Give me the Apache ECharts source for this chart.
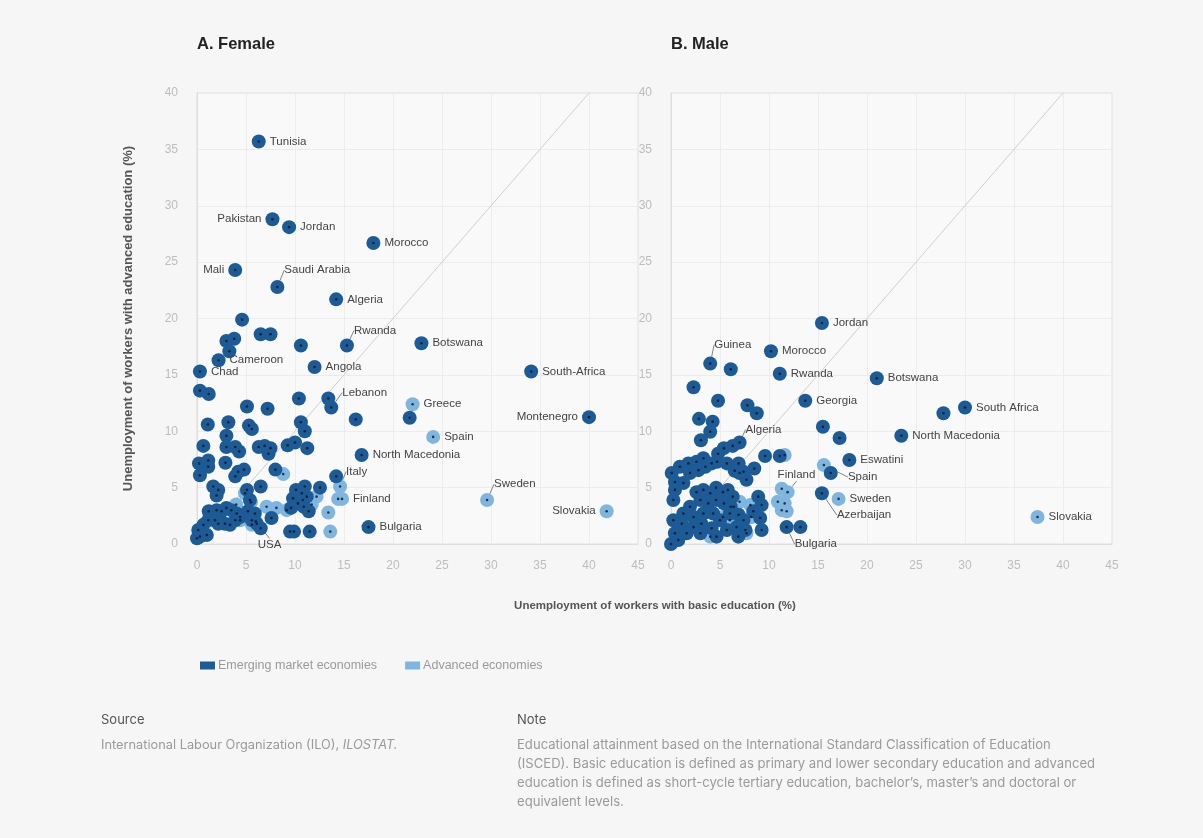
<!DOCTYPE html>
<html>
<head>
<meta charset="utf-8">
<title>Unemployment by educational attainment</title>
<script src="https://cdn.jsdelivr.net/npm/echarts@6/dist/echarts.min.js"></script>
<style>
  html, body { margin: 0; padding: 0; background: #f6f6f6; }
  #chart { width: 1203px; height: 838px; }
</style>
</head>
<body>
<div id="chart"></div>
<script>
// Unemployment rate (%) of workers with basic education (x) vs advanced education (y).
// Each entry: [basic, advanced, country label ('' when unlabelled)].
const femaleEmerging = [
  [6.3, 35.7, 'Tunisia'], [7.7, 28.8, 'Pakistan'], [9.4, 28.1, 'Jordan'], [18.0, 26.7, 'Morocco'],
  [3.9, 24.3, 'Mali'], [8.2, 22.8, 'Saudi Arabia'], [14.2, 21.7, 'Algeria'], [4.6, 19.9, ''],
  [6.5, 18.6, ''], [7.5, 18.6, ''], [3.0, 18.0, ''], [3.8, 18.2, ''], [3.3, 17.1, ''],
  [10.6, 17.6, ''], [15.3, 17.6, 'Rwanda'], [22.9, 17.8, 'Botswana'], [2.2, 16.3, 'Cameroon'],
  [0.3, 15.3, 'Chad'], [12.0, 15.7, 'Angola'], [34.1, 15.3, 'South-Africa'],
  [0.3, 13.6, ''], [1.2, 13.3, ''], [5.1, 12.2, ''], [7.2, 12.0, ''], [10.4, 12.9, ''],
  [13.4, 12.9, ''], [13.7, 12.1, 'Lebanon'], [16.2, 11.05, ''], [21.7, 11.2, ''],
  [40.0, 11.25, 'Montenegro'],
  [1.1, 10.6, ''], [3.2, 10.8, ''], [5.3, 10.5, ''], [5.6, 10.2, ''], [10.6, 10.8, ''], [11.0, 10.0, ''],
  [0.65, 8.7, ''], [3.0, 9.6, ''], [3.0, 8.6, ''], [3.9, 8.6, ''], [4.3, 8.2, ''], [6.3, 8.6, ''],
  [6.9, 8.7, ''], [7.5, 8.5, ''], [7.3, 8.0, ''], [9.25, 8.75, ''], [10.0, 9.0, ''], [11.25, 8.5, ''],
  [16.8, 7.9, 'North Macedonia'],
  [0.2, 7.15, ''], [1.15, 7.4, ''], [1.15, 6.85, ''], [0.3, 6.1, ''], [2.9, 7.2, ''], [3.9, 6.0, ''],
  [4.2, 6.4, ''], [4.8, 6.6, ''], [8.0, 6.6, ''], [6.5, 5.1, ''], [14.2, 6.0, ''],
  [1.66, 5.1, ''], [2.17, 4.8, ''], [2.0, 4.3, ''], [5.1, 4.8, ''], [5.4, 3.9, ''],
  [1.2, 2.9, ''], [2.0, 3.0, ''], [2.5, 2.9, ''], [3.0, 3.2, ''], [3.5, 3.0, ''], [4.05, 2.7, ''],
  [0.13, 1.24, ''], [0.65, 1.7, ''], [1.15, 2.1, ''], [1.84, 2.1, ''], [2.17, 1.8, ''], [2.86, 1.8, ''],
  [3.37, 1.7, ''], [3.9, 2.1, ''], [4.4, 2.4, ''], [0.0, 0.5, ''], [0.3, 0.65, ''], [1.0, 0.8, ''],
  [5.2, 2.9, ''], [5.9, 2.7, ''], [5.6, 2.1, ''], [6.1, 1.8, ''], [6.5, 1.4, ''], [7.6, 2.3, ''],
  [9.5, 1.1, ''], [9.9, 1.1, ''], [11.5, 1.1, ''],
  [10.1, 4.8, ''], [10.7, 4.5, ''], [11.0, 5.1, ''], [9.8, 4.05, ''], [10.3, 3.6, ''], [10.9, 3.3, ''],
  [11.4, 2.9, ''], [12.55, 5.0, ''], [10.8, 3.9, ''], [11.2, 4.2, ''], [9.6, 3.2, ''],
  [17.5, 1.5, 'Bulgaria']
];
const femaleAdvanced = [
  [22.0, 12.4, 'Greece'], [24.1, 9.5, 'Spain'], [14.6, 5.1, 'Italy'], [14.4, 4.0, ''],
  [14.8, 4.0, 'Finland'], [13.4, 2.8, ''], [13.6, 1.1, ''], [29.6, 3.9, 'Sweden'],
  [41.8, 2.9, 'Slovakia'], [4.9, 4.5, ''], [4.0, 3.5, ''], [5.5, 3.7, ''], [7.1, 3.3, ''],
  [8.1, 3.2, ''], [9.15, 3.0, ''], [4.4, 2.1, ''], [5.6, 1.7, ''], [8.8, 6.2, ''],
  [11.7, 3.5, ''], [12.2, 4.2, ''], [6.0, 2.0, 'USA']
];
const maleEmerging = [
  [15.4, 19.6, 'Jordan'], [4.0, 16.0, 'Guinea'], [6.1, 15.5, ''], [10.2, 17.1, 'Morocco'],
  [11.1, 15.1, 'Rwanda'], [21.0, 14.7, 'Botswana'], [2.3, 13.9, ''], [4.8, 12.7, ''],
  [13.7, 12.7, 'Georgia'], [7.8, 12.3, ''], [8.75, 11.6, ''], [30.0, 12.1, 'South Africa'],
  [27.8, 11.6, ''], [2.85, 11.1, ''], [4.25, 10.85, ''], [4.0, 9.95, ''], [3.05, 9.2, ''],
  [15.5, 10.4, ''], [17.2, 9.4, ''], [23.5, 9.6, 'North Macedonia'],
  [7.0, 9.0, 'Algeria'], [6.3, 8.7, ''], [5.4, 8.5, ''], [4.8, 8.0, ''], [4.7, 7.3, ''],
  [5.7, 7.15, ''], [6.9, 7.15, ''], [7.4, 6.4, ''], [7.7, 5.7, ''], [8.5, 6.7, ''], [7.0, 6.3, ''],
  [6.5, 6.5, ''], [9.6, 7.8, ''], [11.1, 7.8, ''], [18.2, 7.45, 'Eswatini'], [16.3, 6.3, ''],
  [15.4, 4.5, 'Azerbaijan'],
  [0.07, 6.3, ''], [0.9, 6.85, ''], [1.77, 7.15, ''], [2.6, 7.3, ''], [3.3, 7.6, ''], [1.94, 6.3, ''],
  [2.8, 6.55, ''], [0.4, 5.5, ''], [1.26, 5.4, ''], [3.5, 6.85, ''], [4.15, 7.15, ''], [0.4, 4.8, ''],
  [0.24, 3.9, ''],
  [2.6, 4.6, ''], [3.3, 4.8, ''], [4.0, 4.5, ''], [4.6, 5.0, ''], [5.3, 4.6, ''], [5.8, 4.8, ''],
  [6.3, 4.2, ''], [3.0, 3.9, ''], [3.8, 3.6, ''], [4.6, 3.9, ''], [5.4, 3.6, ''], [6.1, 3.3, ''],
  [1.94, 3.3, ''], [1.26, 2.7, ''], [2.3, 2.4, ''], [3.3, 2.7, ''], [4.3, 2.7, ''], [5.0, 2.1, ''],
  [6.0, 2.7, ''], [6.9, 2.6, ''], [7.4, 2.1, ''], [0.24, 2.1, ''], [1.1, 1.8, ''], [2.3, 1.5, ''],
  [3.1, 1.8, ''], [4.15, 1.4, ''], [5.7, 1.24, ''], [6.7, 1.5, ''], [7.6, 1.24, ''], [0.4, 0.95, ''],
  [1.6, 0.95, ''], [3.0, 0.95, ''], [0.0, 0.0, ''], [0.75, 0.35, ''], [4.65, 0.65, ''], [6.87, 0.65, ''],
  [8.9, 4.2, ''], [9.25, 3.45, ''], [8.4, 2.9, ''], [9.1, 2.3, ''], [9.25, 1.24, ''],
  [11.8, 1.5, 'Bulgaria'], [13.2, 1.5, '']
];
const maleAdvanced = [
  [15.6, 7.0, 'Spain'], [17.1, 4.0, 'Sweden'], [11.6, 7.9, ''], [11.3, 4.9, ''],
  [11.9, 4.6, 'Finland'], [10.9, 3.75, ''], [11.6, 3.6, ''], [11.3, 3.0, ''], [11.8, 2.9, ''],
  [7.0, 3.75, ''], [8.1, 3.45, ''], [8.2, 2.4, ''], [5.3, 2.4, ''], [6.0, 2.1, ''],
  [4.0, 0.65, ''], [7.7, 0.95, ''], [6.4, 3.3, ''], [37.4, 2.4, 'Slovakia']
];
const diagonal = [[0, 0], [40, 40]];
const xTicks = { min: 0, max: 45, interval: 5 };
const yTicks = { min: 0, max: 40, interval: 5 };
const panelTitles = ['A. Female', 'B. Male'];
const seriesNames = ['Emerging market economies', 'Advanced economies'];

// Label placement: side of the marker, or an offset with a leader line.
const femaleLabels = {
  'Pakistan': { pos: 'left' }, 'Mali': { pos: 'left' }, 'Montenegro': { pos: 'left' },
  'Slovakia': { pos: 'left' },
  'Saudi Arabia': { dx: -4, dy: -17 }, 'Rwanda': { dx: -4, dy: -15 },
  'Lebanon': { dx: 0, dy: -15 }, 'Italy': { dx: -5, dy: -15 },
  'Sweden': { dx: -4, dy: -16 }, 'USA': { dx: -9, dy: 23 }
};
const maleLabels = {
  'Guinea': { dx: -7, dy: -19 }, 'Algeria': { dx: -5, dy: -13 },
  'Spain': { dx: 13, dy: 12 }, 'Finland': { dx: -21, dy: -17 },
  'Azerbaijan': { dx: 4, dy: 22 }, 'Bulgaria': { dx: -3, dy: 17 }
};

const DARK = '#1d5b97';
const LIGHT = '#7fb6e0';
const FONT = '"Liberation Sans", Arial, Helvetica, sans-serif';
const BODY_FONT = 'Inter, "Liberation Sans", Arial, sans-serif';

function toItems(points, placements) {
  return points.map(function (p) {
    const name = p[2];
    if (!name) return { value: [p[0], p[1]] };
    const pl = placements[name] || {};
    const moved = pl.dx !== undefined;
    return {
      value: [p[0], p[1]],
      name: name,
      label: { show: true, position: pl.pos || 'right' },
      labelLine: { show: moved }
    };
  });
}

function layoutFor(points, placements) {
  return function (params) {
    const p = points[params.dataIndex];
    const pl = p && placements[p[2]];
    if (pl && pl.dx !== undefined) return { dx: pl.dx, dy: pl.dy };
    return {};
  };
}

function circles(name, color, points, placements, idx, z) {
  return {
    name: name,
    type: 'scatter',
    xAxisIndex: idx, yAxisIndex: idx,
    symbol: 'circle',
    symbolSize: 14,
    z: z,
    itemStyle: { color: color, opacity: 1 },
    label: {
      show: false, formatter: '{b}', fontSize: 11.5, color: '#444',
      fontFamily: FONT, distance: 4
    },
    labelLine: { show: false, lineStyle: { color: '#666', width: 0.8 } },
    labelLayout: layoutFor(points, placements),
    emphasis: { disabled: true },
    data: toItems(points, placements)
  };
}

function centres(points, idx) {
  return {
    name: 'centre-' + idx,
    type: 'scatter',
    xAxisIndex: idx, yAxisIndex: idx,
    symbolSize: 2.6,
    z: 5,
    silent: true,
    itemStyle: { color: '#0b1724' },
    data: points.map(function (p) { return [p[0], p[1]]; })
  };
}

function diagonalLine(idx) {
  return {
    name: 'diag-' + idx,
    type: 'line',
    xAxisIndex: idx, yAxisIndex: idx,
    symbol: 'none',
    silent: true,
    z: 1,
    lineStyle: { color: '#cfcfcf', width: 1 },
    data: diagonal
  };
}

function xAxis(idx) {
  return Object.assign({
    type: 'value', gridIndex: idx,
    axisLine: { show: true, lineStyle: { color: '#dedede' } },
    axisTick: { show: false },
    splitLine: { lineStyle: { color: '#ececec' } },
    axisLabel: { color: '#bdbdbd', fontSize: 12, margin: 16, fontFamily: FONT }
  }, xTicks);
}

function yAxis(idx) {
  const ax = Object.assign({
    type: 'value', gridIndex: idx,
    axisLine: { show: true, lineStyle: { color: '#dedede' } },
    axisTick: { show: false },
    splitLine: { lineStyle: { color: '#ececec' } },
    axisLabel: { color: '#bdbdbd', fontSize: 12, margin: 19, fontFamily: FONT }
  }, yTicks);
  if (idx === 0) {
    ax.name = 'Unemployment of workers with advanced education (%)';
    ax.nameLocation = 'middle';
    ax.nameGap = 62;
    ax.nameRotate = 90;
    ax.nameTextStyle = { fontSize: 13, fontWeight: 'bold', color: '#555', fontFamily: FONT };
  }
  return ax;
}

const gridBox = {
  top: 93, height: 451, width: 441, show: true,
  borderColor: '#dedede', borderWidth: 1, backgroundColor: '#f9f9f9'
};

const noteLines = [
  'Educational attainment based on the International Standard Classification of Education',
  '(ISCED). Basic education is defined as primary and lower secondary education and advanced',
  'education is defined as short-cycle tertiary education, bachelor\u2019s, master\u2019s and doctoral or',
  'equivalent levels.'
];

const graphics = [
  { type: 'text', left: 197, top: 36, style: { text: panelTitles[0], font: 'bold 16.5px ' + FONT, fill: '#222' } },
  { type: 'text', left: 671, top: 36, style: { text: panelTitles[1], font: 'bold 16.5px ' + FONT, fill: '#222' } },
  { type: 'text', x: 655, y: 606, style: { text: 'Unemployment of workers with basic education (%)', font: 'bold 11.5px ' + FONT, fill: '#555', align: 'center', verticalAlign: 'middle' } },
  { type: 'text', x: 101, y: 720, style: { text: 'Source', font: '13px ' + BODY_FONT, fill: '#555', verticalAlign: 'middle' } },
  { type: 'text', x: 517, y: 720, style: { text: 'Note', font: '13px ' + BODY_FONT, fill: '#555', verticalAlign: 'middle' } },
  { type: 'text', x: 101, y: 745, style: {
      text: '{n|International Labour Organization (ILO), }{i|ILOSTAT.}',
      verticalAlign: 'middle',
      rich: {
        n: { fontSize: 12.8, fill: '#9a9a9a', color: '#9a9a9a', fontFamily: BODY_FONT },
        i: { fontSize: 12.8, fill: '#9a9a9a', color: '#9a9a9a', fontStyle: 'italic', fontFamily: BODY_FONT }
      }
  } }
];
noteLines.forEach(function (line, i) {
  graphics.push({ type: 'text', x: 517, y: 745 + i * 19, style: { text: line, font: '13.1px ' + BODY_FONT, fill: '#9a9a9a', verticalAlign: 'middle' } });
});

const chart = echarts.init(document.getElementById('chart'), null, { renderer: 'canvas' });
chart.setOption({
  backgroundColor: '#f6f6f6',
  animation: false,
  textStyle: { fontFamily: FONT },
  grid: [
    Object.assign({ left: 197 }, gridBox),
    Object.assign({ left: 671 }, gridBox)
  ],
  xAxis: [xAxis(0), xAxis(1)],
  yAxis: [yAxis(0), yAxis(1)],
  legend: {
    data: seriesNames.map(function (n) { return { name: n, icon: 'rect' }; }),
    left: 195, top: 654,
    itemWidth: 15, itemHeight: 8, itemGap: 28,
    textStyle: { color: '#9a9a9a', fontSize: 12.5, fontFamily: FONT, padding: [0, 0, 0, -2] },
    selectedMode: false
  },
  graphic: graphics,
  series: [
    diagonalLine(0),
    circles(seriesNames[1], LIGHT, femaleAdvanced, femaleLabels, 0, 2),
    circles(seriesNames[0], DARK, femaleEmerging, femaleLabels, 0, 3),
    centres(femaleAdvanced.concat(femaleEmerging), 0),
    diagonalLine(1),
    circles(seriesNames[1], LIGHT, maleAdvanced, maleLabels, 1, 2),
    circles(seriesNames[0], DARK, maleEmerging, maleLabels, 1, 3),
    centres(maleAdvanced.concat(maleEmerging), 1)
  ]
});
</script>
</body>
</html>
